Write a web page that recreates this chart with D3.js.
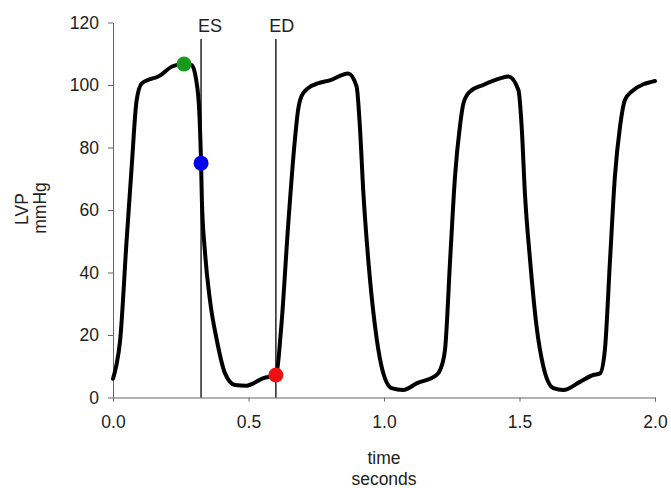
<!DOCTYPE html>
<html><head><meta charset="utf-8">
<script src="https://cdn.jsdelivr.net/npm/d3@7"></script>
<style>
body{margin:0;background:#fff;}
text{font-family:"Liberation Sans",Arial,sans-serif;fill:#222;}
</style></head>
<body><svg id="c" width="671" height="488"></svg>
<script>
const timeS = [0.000,0.013,0.026,0.050,0.069,0.087,0.106,0.173,0.220,0.262,0.290,0.307,0.318,0.325,0.328,0.339,0.358,0.383,0.413,0.450,0.493,0.555,0.601,0.621,0.646,0.670,0.683,0.695,0.720,0.756,0.800,0.868,0.899,0.911,0.924,0.942,0.967,0.991,1.028,1.071,1.120,1.194,1.207,1.225,1.244,1.262,1.280,1.293,1.317,1.366,1.428,1.459,1.496,1.508,1.520,1.539,1.563,1.588,1.625,1.662,1.723,1.772,1.797,1.815,1.834,1.852,1.871,1.889,1.914,2.000];
const lvp   = [6.0,10.5,18.0,50.0,74.0,95.0,100.5,103.0,106.0,106.7,106.4,101.6,92.0,75.0,63.0,47.0,31.0,18.4,7.8,4.0,3.8,6.2,7.2,22.7,54.7,81.4,92.0,96.3,99.0,100.5,101.5,103.7,99.5,86.7,65.3,44.0,22.7,9.9,3.0,2.4,4.5,7.2,8.8,15.2,44.0,70.7,86.7,94.1,97.9,100.0,102.1,102.7,98.4,86.7,65.3,44.0,22.7,9.9,3.0,2.4,5.0,7.2,7.7,15.2,44.0,70.7,86.7,95.2,97.9,101.3];
const markerTime = [0.262,0.325,0.601];
const markerLvp = [106.7,75.0,7.2];
const markerColor = ["#1a9a1a","#0000ee","#ee1111"];
const eventLabels = ["ES","ED"];
const eventTime = [0.325,0.601];
const xTicks = [0.0,0.5,1.0,1.5,2.0];
const yTicks = [0,20,40,60,80,100,120];

const svg = d3.select("#c");
const x = d3.scaleLinear().domain([0,2]).range([113,655]);
const y = d3.scaleLinear().domain([0,120]).range([397.5,22.5]);
const axisColor = "#666";
const fs = "17.5px";

const xa = svg.append("g").attr("transform","translate(0,397.5)")
  .call(d3.axisBottom(x).tickValues(xTicks).tickFormat(d3.format(".1f")).tickSize(4).tickSizeOuter(4));
const ya = svg.append("g").attr("transform","translate(113,0)")
  .call(d3.axisLeft(y).tickValues(yTicks).tickSize(5).tickSizeOuter(0));
[xa,ya].forEach(g=>{
  g.selectAll("path,line").attr("stroke",axisColor);
  g.selectAll("text").style("font-size",fs).attr("fill","#222");
});
xa.selectAll("text").attr("dy","23.5px");
ya.selectAll("text").attr("dx","-6px");

// event lines
const labelOffset = [9,6];
eventTime.forEach((t,i)=>{
  svg.append("line").attr("x1",x(t)).attr("x2",x(t)).attr("y1",39).attr("y2",397.5)
    .attr("stroke","#222").attr("stroke-width",1.5);
  svg.append("text").attr("x",x(t)+labelOffset[i]).attr("y",32).attr("text-anchor","middle")
    .style("font-size","18px").text(eventLabels[i]);
});

const line = d3.line().x((d,i)=>x(timeS[i])).y((d,i)=>y(lvp[i])).curve(d3.curveMonotoneX);
svg.append("path").attr("d",line(lvp)).attr("fill","none").attr("stroke","#000")
  .attr("stroke-width",4).attr("stroke-linejoin","round").attr("stroke-linecap","round");

markerTime.forEach((t,i)=>{
  svg.append("circle").attr("cx",x(t)).attr("cy",y(markerLvp[i])).attr("r",7.5).attr("fill",markerColor[i]);
});

// axis titles
svg.append("text").attr("transform","translate(28,209) rotate(-90)").attr("text-anchor","middle")
  .style("font-size",fs).text("LVP");
svg.append("text").attr("transform","translate(46,208) rotate(-90)").attr("text-anchor","middle")
  .style("font-size",fs).text("mmHg");
svg.append("text").attr("x",384).attr("y",464).attr("text-anchor","middle").style("font-size",fs).text("time");
svg.append("text").attr("x",384).attr("y",485).attr("text-anchor","middle").style("font-size",fs).text("seconds");
</script></body></html>
